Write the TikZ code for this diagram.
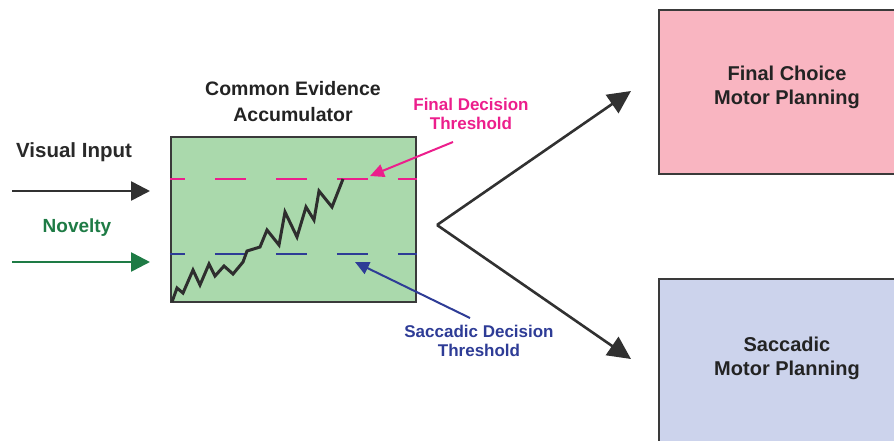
\documentclass[tikz,border=0pt]{standalone}
\usepackage{fontspec}
\setmainfont{Liberation Sans}
\usetikzlibrary{arrows.meta}

\definecolor{accfill}{HTML}{AAD9AC}
\definecolor{finalfill}{HTML}{F9B5C1}
\definecolor{saccfill}{HTML}{CCD3EC}
\definecolor{finalcol}{HTML}{EC1E8C}
\definecolor{sacccol}{HTML}{2E3C96}
\definecolor{novcol}{HTML}{1E7B45}
\definecolor{edge}{HTML}{3A3A3A}

\begin{document}
\begin{tikzpicture}[x=1pt,y=-1pt,
  lbl/.style={font=\bfseries\fontsize{20}{24}\selectfont, align=center, inner sep=0pt},
  smalllbl/.style={font=\bfseries\fontsize{17}{18.5}\selectfont, align=center, inner sep=0pt},
  panel/.style={draw=edge, line width=2.4pt, inner sep=0pt},
  inarrow/.style={line width=2.6pt, -{Triangle[length=19pt,width=19pt]}},
  outarrow/.style={line width=2.6pt, -{Triangle[length=23pt,width=22pt]}},
  pointer/.style={line width=2pt, -{Triangle[length=14pt,width=13pt]}},
  threshold/.style={line width=2.4pt, dash pattern=on 31pt off 30pt, dash phase=16pt},
  trace/.style={line width=3pt, edge!80!black, line join=miter}
]
\useasboundingbox (0,0) rectangle (894,440);
\begin{scope}
\clip (0,0) rectangle (894,440);

% motor planning boxes, running off the right edge
\node[panel, fill=finalfill, minimum width=240pt, minimum height=164pt, anchor=north west] (finalbox) at (658,9) {};
\node[panel, fill=saccfill, minimum width=240pt, minimum height=170pt, anchor=north west] (saccbox) at (658,278) {};
\node[lbl, edge!60!black] (finaltxt) at (787,87) {Final Choice\\Motor Planning};
\node[lbl, edge!60!black] (sacctxt) at (787,358) {Saccadic\\Motor Planning};

% evidence accumulator
\node[panel, fill=accfill, minimum width=245pt, minimum height=165pt] (acc) at (293.5,219.5) {};
\node[lbl, font=\bfseries\fontsize{19.5}{26}\selectfont, edge!60!black] (acctitle) at (293,102) {Common Evidence\\Accumulator};

% thresholds across the accumulator
\coordinate (ftL) at (acc.west |- 0,179);
\coordinate (ftR) at (acc.east |- 0,179);
\coordinate (stL) at (acc.west |- 0,254);
\coordinate (stR) at (acc.east |- 0,254);
\draw[threshold, finalcol] (ftL) -- (ftR);
\draw[threshold, sacccol] (stL) -- (stR);

% accumulated evidence trace
\draw[trace] (172,302) -- (177,288) -- (183,293) -- (193,270) -- (200,285)
  -- (209,264) -- (215,276) -- (224,266) -- (233,274) -- (243,262)
  -- (247,251) -- (260,247) -- (267,230) -- (279,245) -- (285,212)
  -- (297,237) -- (306,207) -- (314,220) -- (319,191) -- (332,207)
  -- (343,179);

% inputs
\node[lbl, edge!70!black, font=\bfseries\fontsize{20.5}{24}\selectfont] (vislbl) at (74,152) {Visual Input};
\node[lbl, novcol, font=\bfseries\fontsize{19}{24}\selectfont] (novlbl) at (77,228) {Novelty};
\coordinate (visS) at (12,191);
\coordinate (visE) at (150,191);
\coordinate (novS) at (12,262);
\coordinate (novE) at (150,262);
\draw[inarrow, edge!85!black] (visS) -- (visE);
\draw[inarrow, novcol] (novS) -- (novE);

% threshold labels with pointers
\node[smalllbl, finalcol] (ftlbl) at (471,114) {Final Decision\\Threshold};
\node[smalllbl, sacccol] (stlbl) at (479,341) {Saccadic Decision\\Threshold};
\coordinate (ftTail) at (453,142);
\coordinate (ftHead) at (370,176);
\coordinate (stTail) at (470,318);
\coordinate (stHead) at (355,262);
\draw[pointer, finalcol] (ftTail) -- (ftHead);
\draw[pointer, sacccol] (stTail) -- (stHead);

% decision fork
\coordinate (fork) at (437,225);
\coordinate (finalTip) at (631,91);
\coordinate (saccTip) at (631,359);
\draw[outarrow, edge!85!black] (fork) -- (finalTip);
\draw[outarrow, edge!85!black] (fork) -- (saccTip);
\end{scope}
\end{tikzpicture}
\end{document}
